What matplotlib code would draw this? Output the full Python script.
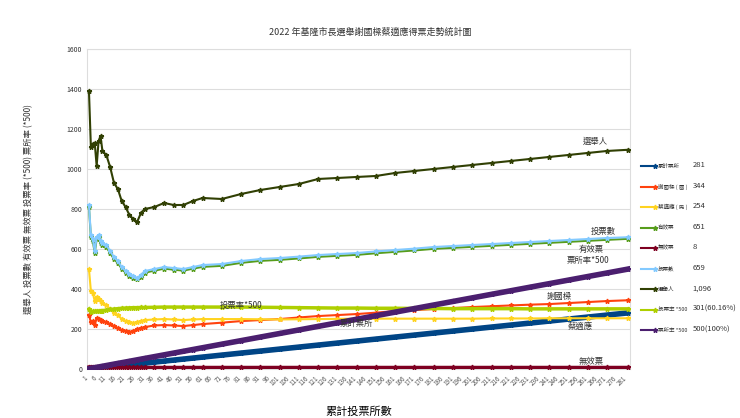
import matplotlib
matplotlib.use("Agg")
import matplotlib.pyplot as plt

plt.rcParams["font.family"] = ["Noto Sans CJK TC", "DejaVu Sans"]

stations = [1, 2, 3, 4, 5, 6, 7, 8, 10, 12, 14, 16, 18, 20, 22, 24, 26, 28, 30, 35,
            40, 45, 50, 55, 60, 70, 80, 90, 100, 110, 120, 130, 140, 150, 160, 170,
            180, 190, 200, 210, 220, 230, 240, 250, 260, 270, 281]
station_count = stations
station_rate500 = [1.8, 3.6, 5.3, 7.1, 8.9, 10.7, 12.5, 14.2, 17.8, 21.4, 24.9, 28.5,
                   32.0, 35.6, 39.1, 42.7, 46.3, 49.8, 53.4, 62.3, 71.2, 80.1, 89.0,
                   97.9, 106.8, 124.6, 142.3, 160.1, 177.9, 195.7, 213.5, 231.3, 249.1,
                   266.9, 284.7, 302.5, 320.3, 338.1, 355.9, 373.7, 391.5, 409.3, 427.0,
                   444.8, 462.6, 480.4, 500]
hsieh = [270, 235, 240, 220, 255, 250, 245, 240, 235, 225, 215, 205, 195, 190, 185, 190,
         200, 205, 210, 218, 220, 218, 215, 220, 225, 232, 240, 245, 250, 258, 265, 270,
         275, 282, 290, 295, 300, 305, 310, 314, 318, 322, 325, 330, 335, 340, 344]
tsai = [500, 390, 380, 340, 360, 350, 340, 330, 320, 300, 280, 270, 250, 240, 235, 230,
        235, 240, 245, 248, 250, 248, 245, 248, 250, 250, 250, 249, 248, 249, 250, 251,
        252, 252, 252, 252, 252, 252, 252, 253, 253, 253, 254, 254, 254, 254, 254]
voters_total = [820, 670, 650, 590, 660, 670, 640, 630, 620, 590, 560, 540, 510, 490,
                475, 465, 455, 470, 490, 500, 510, 505, 500, 510, 520, 525, 540, 550,
                555, 562, 570, 575, 580, 588, 595, 602, 610, 615, 620, 625, 630, 635,
                640, 645, 650, 655, 659]
valid = [810, 660, 640, 582, 650, 660, 630, 620, 610, 580, 550, 530, 502, 482, 467,
         457, 448, 462, 482, 492, 502, 497, 492, 502, 511, 516, 531, 541, 546, 553,
         561, 566, 571, 579, 586, 593, 601, 606, 611, 616, 621, 626, 631, 636, 641,
         646, 651]
invalid = [10, 10, 10, 8, 10, 10, 10, 10, 10, 10, 10, 10, 8, 8, 8, 8, 8, 8, 8, 8, 8, 8,
           8, 8, 8, 8, 8, 8, 8, 8, 8, 8, 8, 8, 8, 8, 8, 8, 8, 8, 8, 8, 8, 8, 8, 8, 8]
electors = [1390, 1110, 1125, 1130, 1015, 1140, 1165, 1090, 1070, 1010, 930, 900,
            840, 810, 770, 750, 735, 780, 800, 810, 830, 820, 820, 840, 855, 850, 875,
            895, 910, 925, 950, 955, 960, 965, 980, 990, 1000, 1010, 1020, 1030, 1040,
            1050, 1060, 1070, 1080, 1090, 1096]
turnout500 = [300, 285, 288, 288, 290, 290, 292, 292, 295, 298, 300, 302, 304, 305, 306,
              307, 307, 308, 308, 309, 310, 310, 310, 310, 310, 310, 310, 309, 308, 307,
              306, 305, 305, 304, 304, 303, 303, 302, 302, 302, 302, 301, 301, 301, 301,
              301, 301]

names = ["累計票所", "謝國樑 ( 國 )", "蔡適應 ( 民 )", "有效票", "無效票", "投票數",
         "選舉人", "投票率 *500", "票所率 *500"]
final_values = ["281", "344", "254", "651", "8", "659", "1,096", "301(60.16%)", "500(100%)"]
colors = ["#004586", "#ff420e", "#ffd320", "#579d1c", "#7e0021", "#83caff",
          "#314004", "#aecf00", "#4b1f6f"]
series = [station_count, hsieh, tsai, valid, invalid, voters_total, electors,
          turnout500, station_rate500]
widths = [4, 1.5, 1.5, 1.5, 2.5, 1.5, 1.5, 2.5, 4]

fig = plt.figure(figsize=(7.4, 4.18), dpi=100)
ax = fig.add_axes([0.1176, 0.117, 0.734, 0.766])
for y, c, lw in zip(series, colors, widths):
    ax.plot(stations, y, color=c, lw=lw, marker="*", ms=3.5, zorder=3)

ax.set_xlim(0, 282)
ax.set_ylim(0, 1600)
ax.set_yticks(range(0, 1601, 200))
ax.set_xticks(range(1, 282, 5))
ax.tick_params(axis="x", labelsize=4.5, labelrotation=45, length=0, colors="#555555")
ax.tick_params(axis="y", labelsize=5, length=0, colors="#333333")
for lbl in ax.get_xticklabels():
    lbl.set_ha("right")
ax.grid(axis="y", color="#dddddd", lw=0.8)
for s in ax.spines.values():
    s.set_color("#dddddd")

ax.set_xlabel("累計投票所數", fontsize=8, labelpad=14)
ax.set_ylabel("選舉人 投票數 有效票 無效票 投票率 (*500) 票所率 (*500)", fontsize=6,
              color="#333333", labelpad=24)
fig.suptitle("2022 年基隆市長選舉謝國樑蔡適應得票走勢統計圖", fontsize=6.5,
             color="#333333", y=0.935)

notes = [("選舉人", 264, 1140), ("投票數", 268, 690), ("有效票", 262, 600),
         ("票所率*500", 260, 545), ("謝國樑", 245, 365), ("蔡適應", 256, 215),
         ("累計票所", 140, 228), ("投票率*500", 80, 320), ("無效票", 262, 38)]
for txt, x, y in notes:
    ax.text(x, y, txt, fontsize=6, color="#333333", ha="center", va="center")

# legend column on the right
for i, (n, v, c) in enumerate(zip(names, final_values, colors)):
    yy = 1 - (166 + i * 20.5) / 418
    fig.add_artist(plt.Line2D([0.866, 0.885], [yy, yy], color=c, lw=1.5,
                              marker="*", ms=3.5, markevery=[1]))
    fig.text(0.889, yy, n, fontsize=4, va="center", color="#333333")
    fig.text(0.936, yy + 0.002, v, fontsize=5.5, va="center", color="#333333")

fig.savefig("out.png", dpi=100)
